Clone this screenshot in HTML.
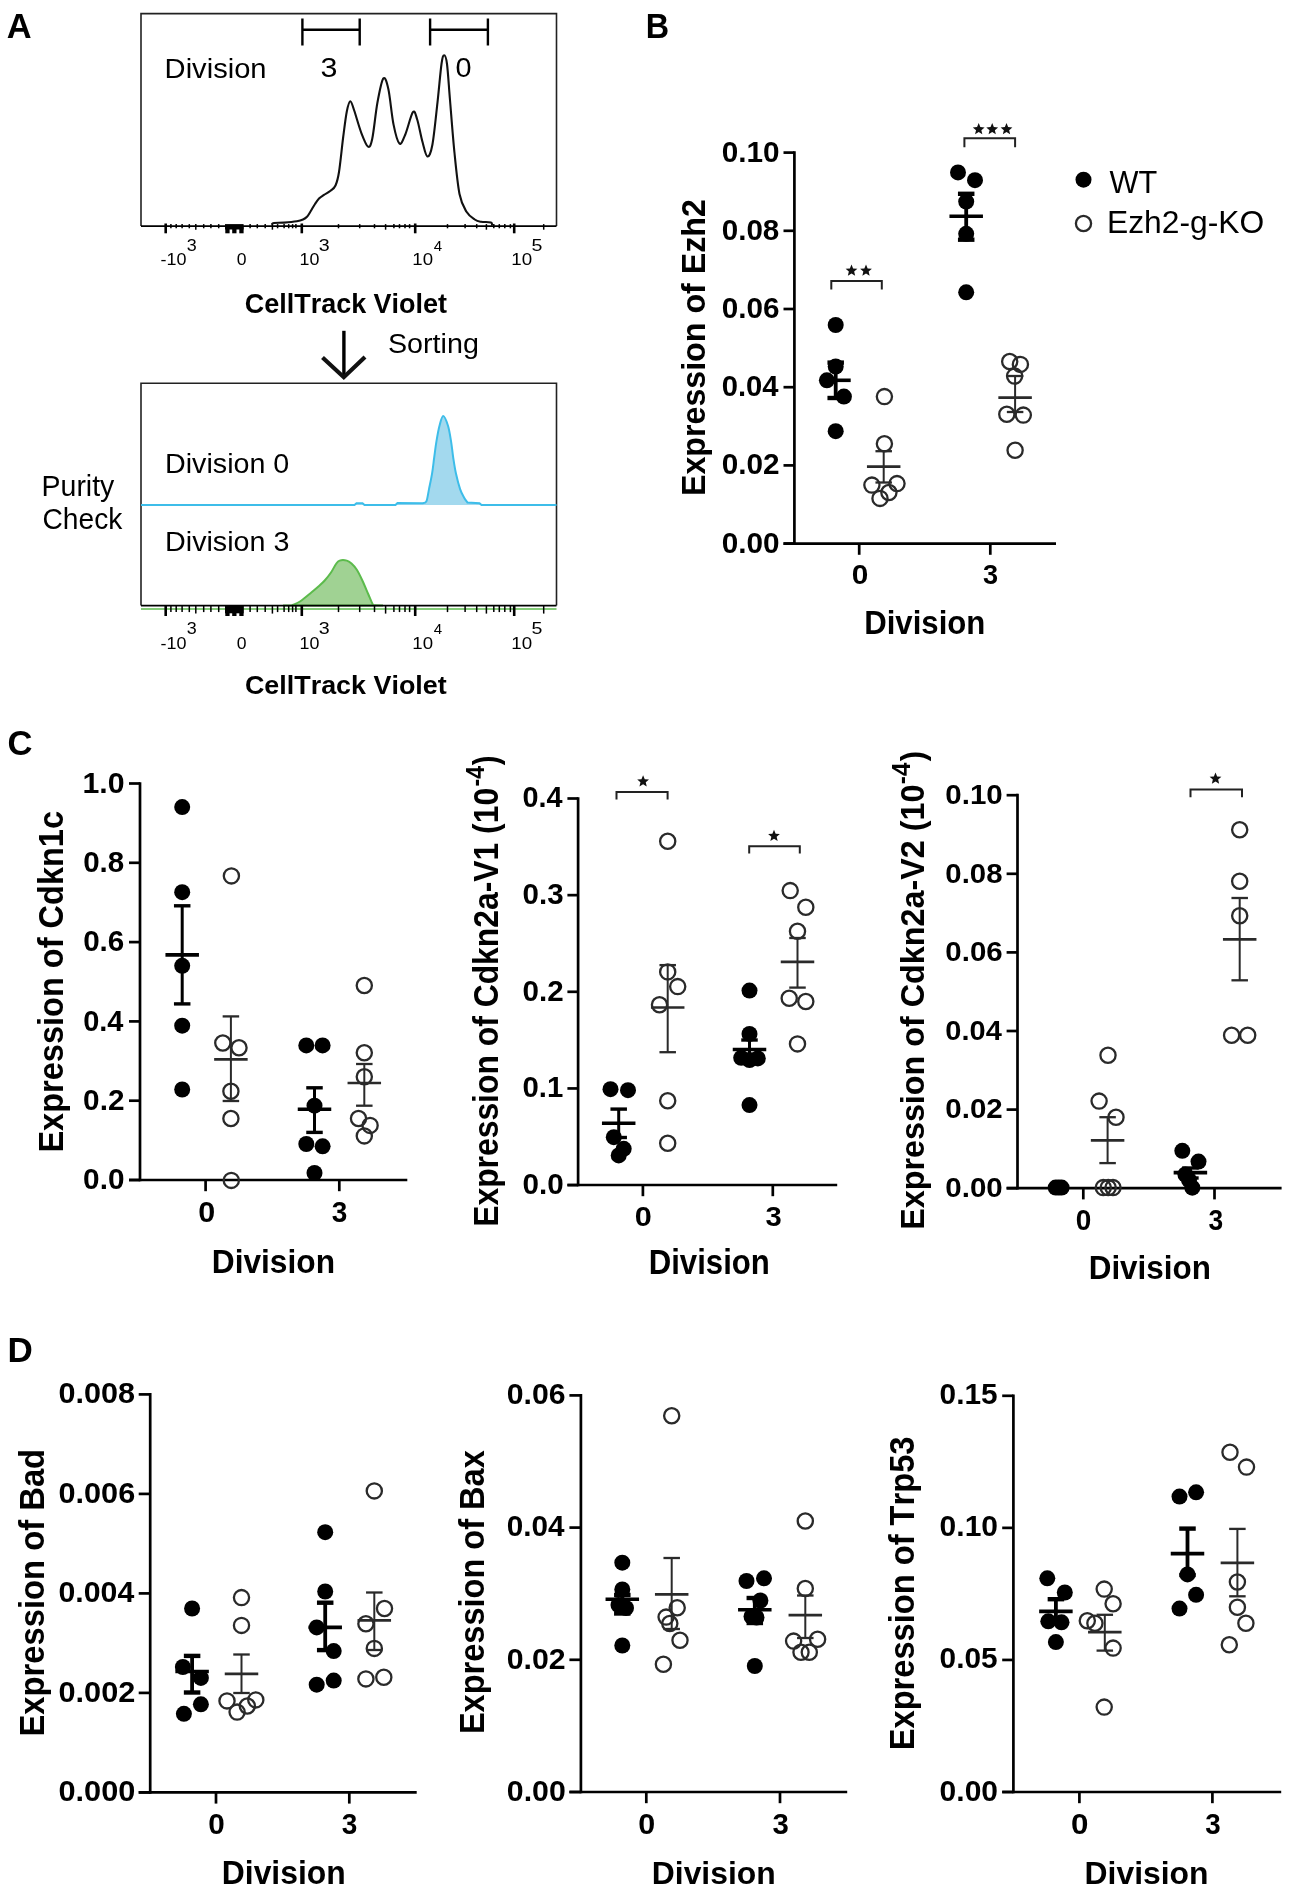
<!DOCTYPE html>
<html><head><meta charset="utf-8"><style>
html,body{margin:0;padding:0;background:#fff;}
svg{display:block;will-change:transform;}
text{font-family:"Liberation Sans",sans-serif;font-kerning:none;font-variant-ligatures:none;}
</style></head><body>
<svg width="1299" height="1897" viewBox="0 0 1299 1897">
<rect width="1299" height="1897" fill="#fff"/>
<text transform="translate(6.84,37.90) scale(0.9870,1)" font-size="34.88" font-weight="bold" fill="#000">A</text>
<path d="M141.0,226.1 V13.6 H556.5 V226.1" fill="none" stroke="#222" stroke-width="1.6"/>
<line x1="302.40" y1="18.50" x2="302.40" y2="45.50" stroke="#000" stroke-width="2.4" stroke-linecap="butt"/>
<line x1="359.70" y1="18.50" x2="359.70" y2="45.50" stroke="#000" stroke-width="2.4" stroke-linecap="butt"/>
<line x1="302.40" y1="29.80" x2="359.70" y2="29.80" stroke="#000" stroke-width="2.4" stroke-linecap="butt"/>
<line x1="430.10" y1="18.50" x2="430.10" y2="45.50" stroke="#000" stroke-width="2.4" stroke-linecap="butt"/>
<line x1="487.90" y1="18.50" x2="487.90" y2="45.50" stroke="#000" stroke-width="2.4" stroke-linecap="butt"/>
<line x1="430.10" y1="29.80" x2="487.90" y2="29.80" stroke="#000" stroke-width="2.4" stroke-linecap="butt"/>
<text transform="translate(164.61,77.80) scale(1.0449,1)" font-size="27.88" fill="#000">Division</text>
<text transform="translate(320.44,77.20) scale(1.1280,1)" font-size="26.92" fill="#000">3</text>
<text transform="translate(455.57,77.20) scale(1.0722,1)" font-size="26.92" fill="#000">0</text>
<path d="M271.50,224.60 C271.92,224.33 271.92,223.33 274.00,223.00 C276.08,222.67 280.18,222.90 284.00,222.60 C287.82,222.30 293.73,221.72 296.90,221.20 C300.07,220.68 301.32,220.23 303.00,219.50 C304.68,218.77 305.75,218.13 307.00,216.80 C308.25,215.47 309.17,213.63 310.50,211.50 C311.83,209.37 313.58,206.17 315.00,204.00 C316.42,201.83 317.50,200.03 319.00,198.50 C320.50,196.97 322.08,196.08 324.00,194.80 C325.92,193.52 328.58,192.35 330.50,190.80 C332.42,189.25 334.08,188.63 335.50,185.50 C336.92,182.37 337.72,180.08 339.00,172.00 C340.28,163.92 341.90,147.08 343.20,137.00 C344.50,126.92 345.62,117.47 346.80,111.50 C347.98,105.53 349.07,101.37 350.30,101.20 C351.53,101.03 352.37,105.23 354.20,110.50 C356.03,115.77 359.00,126.78 361.30,132.80 C363.60,138.82 366.17,145.65 368.00,146.60 C369.83,147.55 370.73,145.80 372.30,138.50 C373.87,131.20 375.57,112.80 377.40,102.80 C379.23,92.80 381.47,80.75 383.30,78.50 C385.13,76.25 386.70,81.65 388.40,89.30 C390.10,96.95 391.67,115.37 393.50,124.40 C395.33,133.43 397.43,141.82 399.40,143.50 C401.37,145.18 403.05,139.72 405.30,134.50 C407.55,129.28 410.92,114.70 412.90,112.20 C414.88,109.70 415.63,114.65 417.20,119.50 C418.77,124.35 420.62,135.13 422.30,141.30 C423.98,147.47 425.62,155.93 427.30,156.50 C428.98,157.07 430.70,153.73 432.40,144.70 C434.10,135.67 435.98,115.75 437.50,102.30 C439.02,88.85 440.38,71.85 441.50,64.00 C442.62,56.15 443.28,55.20 444.20,55.20 C445.12,55.20 446.03,56.53 447.00,64.00 C447.97,71.47 448.77,85.33 450.00,100.00 C451.23,114.67 452.82,136.33 454.40,152.00 C455.98,167.67 457.52,184.08 459.50,194.00 C461.48,203.92 463.77,207.25 466.30,211.50 C468.83,215.75 472.25,217.78 474.70,219.50 C477.15,221.22 478.28,221.32 481.00,221.80 C483.72,222.28 489.17,221.78 491.00,222.40 C492.83,223.02 491.83,224.98 492.00,225.50" fill="none" stroke="#111" stroke-width="2.1" stroke-linejoin="round"/>
<line x1="141.00" y1="226.10" x2="556.50" y2="226.10" stroke="#000" stroke-width="1.6" stroke-linecap="butt"/>
<line x1="165.70" y1="223.50" x2="165.70" y2="233.30" stroke="#000" stroke-width="2.6" stroke-linecap="butt"/>
<line x1="301.80" y1="223.50" x2="301.80" y2="233.30" stroke="#000" stroke-width="2.6" stroke-linecap="butt"/>
<line x1="415.20" y1="223.50" x2="415.20" y2="233.30" stroke="#000" stroke-width="2.6" stroke-linecap="butt"/>
<line x1="514.20" y1="223.50" x2="514.20" y2="233.30" stroke="#000" stroke-width="2.6" stroke-linecap="butt"/>
<line x1="170.90" y1="224.10" x2="170.90" y2="228.30" stroke="#000" stroke-width="1.5" stroke-linecap="butt"/>
<line x1="176.20" y1="224.10" x2="176.20" y2="228.30" stroke="#000" stroke-width="1.5" stroke-linecap="butt"/>
<line x1="182.10" y1="224.10" x2="182.10" y2="228.30" stroke="#000" stroke-width="1.5" stroke-linecap="butt"/>
<line x1="189.30" y1="224.10" x2="189.30" y2="228.30" stroke="#000" stroke-width="1.5" stroke-linecap="butt"/>
<line x1="203.70" y1="224.10" x2="203.70" y2="228.30" stroke="#000" stroke-width="1.5" stroke-linecap="butt"/>
<line x1="210.90" y1="224.10" x2="210.90" y2="228.30" stroke="#000" stroke-width="1.5" stroke-linecap="butt"/>
<line x1="218.70" y1="224.10" x2="218.70" y2="228.30" stroke="#000" stroke-width="1.5" stroke-linecap="butt"/>
<line x1="250.10" y1="224.10" x2="250.10" y2="228.30" stroke="#000" stroke-width="1.5" stroke-linecap="butt"/>
<line x1="257.30" y1="224.10" x2="257.30" y2="228.30" stroke="#000" stroke-width="1.5" stroke-linecap="butt"/>
<line x1="265.20" y1="224.10" x2="265.20" y2="228.30" stroke="#000" stroke-width="1.5" stroke-linecap="butt"/>
<line x1="277.60" y1="224.10" x2="277.60" y2="228.30" stroke="#000" stroke-width="1.5" stroke-linecap="butt"/>
<line x1="284.10" y1="224.10" x2="284.10" y2="228.30" stroke="#000" stroke-width="1.5" stroke-linecap="butt"/>
<line x1="288.70" y1="224.10" x2="288.70" y2="228.30" stroke="#000" stroke-width="1.5" stroke-linecap="butt"/>
<line x1="292.60" y1="224.10" x2="292.60" y2="228.30" stroke="#000" stroke-width="1.5" stroke-linecap="butt"/>
<line x1="295.90" y1="224.10" x2="295.90" y2="228.30" stroke="#000" stroke-width="1.5" stroke-linecap="butt"/>
<line x1="338.50" y1="224.10" x2="338.50" y2="228.30" stroke="#000" stroke-width="1.5" stroke-linecap="butt"/>
<line x1="359.70" y1="224.10" x2="359.70" y2="228.30" stroke="#000" stroke-width="1.5" stroke-linecap="butt"/>
<line x1="374.50" y1="224.10" x2="374.50" y2="228.30" stroke="#000" stroke-width="1.5" stroke-linecap="butt"/>
<line x1="393.90" y1="224.10" x2="393.90" y2="228.30" stroke="#000" stroke-width="1.5" stroke-linecap="butt"/>
<line x1="399.50" y1="224.10" x2="399.50" y2="228.30" stroke="#000" stroke-width="1.5" stroke-linecap="butt"/>
<line x1="405.00" y1="224.10" x2="405.00" y2="228.30" stroke="#000" stroke-width="1.5" stroke-linecap="butt"/>
<line x1="409.60" y1="224.10" x2="409.60" y2="228.30" stroke="#000" stroke-width="1.5" stroke-linecap="butt"/>
<line x1="447.50" y1="224.10" x2="447.50" y2="228.30" stroke="#000" stroke-width="1.5" stroke-linecap="butt"/>
<line x1="465.10" y1="224.10" x2="465.10" y2="228.30" stroke="#000" stroke-width="1.5" stroke-linecap="butt"/>
<line x1="476.70" y1="224.10" x2="476.70" y2="228.30" stroke="#000" stroke-width="1.5" stroke-linecap="butt"/>
<line x1="493.80" y1="224.10" x2="493.80" y2="228.30" stroke="#000" stroke-width="1.5" stroke-linecap="butt"/>
<line x1="499.30" y1="224.10" x2="499.30" y2="228.30" stroke="#000" stroke-width="1.5" stroke-linecap="butt"/>
<line x1="504.80" y1="224.10" x2="504.80" y2="228.30" stroke="#000" stroke-width="1.5" stroke-linecap="butt"/>
<line x1="510.40" y1="224.10" x2="510.40" y2="228.30" stroke="#000" stroke-width="1.5" stroke-linecap="butt"/>
<line x1="195.80" y1="224.10" x2="195.80" y2="229.70" stroke="#000" stroke-width="1.5" stroke-linecap="butt"/>
<line x1="272.40" y1="224.10" x2="272.40" y2="229.70" stroke="#000" stroke-width="1.5" stroke-linecap="butt"/>
<line x1="385.60" y1="224.10" x2="385.60" y2="229.70" stroke="#000" stroke-width="1.5" stroke-linecap="butt"/>
<line x1="486.40" y1="224.10" x2="486.40" y2="229.70" stroke="#000" stroke-width="1.5" stroke-linecap="butt"/>
<line x1="543.70" y1="224.10" x2="543.70" y2="229.70" stroke="#000" stroke-width="1.5" stroke-linecap="butt"/>
<rect x="225.0" y="224.10" width="18.6" height="5.40" fill="#000"/>
<rect x="225.3" y="226.10" width="4.3" height="7.20" fill="#000"/>
<rect x="232.2" y="226.10" width="4.3" height="7.20" fill="#000"/>
<rect x="239.3" y="226.10" width="4.3" height="7.20" fill="#000"/>
<text transform="translate(160.40,265.40) scale(1.1420,1)" font-size="15.75" fill="#000">-10</text>
<text transform="translate(186.72,251.00) scale(1.1380,1)" font-size="15.75" fill="#000">3</text>
<text transform="translate(236.71,265.40) scale(1.1154,1)" font-size="15.75" fill="#000">0</text>
<text transform="translate(299.54,265.40) scale(1.1332,1)" font-size="15.75" fill="#000">10</text>
<text transform="translate(318.75,251.00) scale(1.2451,1)" font-size="15.75" fill="#000">3</text>
<text transform="translate(412.28,265.40) scale(1.1841,1)" font-size="15.75" fill="#000">10</text>
<text transform="translate(433.65,251.00) scale(0.9789,1)" font-size="15.41" fill="#000">4</text>
<text transform="translate(511.27,265.40) scale(1.1905,1)" font-size="15.75" fill="#000">10</text>
<text transform="translate(531.41,251.00) scale(1.2268,1)" font-size="15.99" fill="#000">5</text>
<text transform="translate(244.69,312.60) scale(0.9626,1)" font-size="28.02" font-weight="bold" fill="#000">CellTrack Violet</text>
<line x1="343.90" y1="330.80" x2="343.90" y2="376.50" stroke="#000" stroke-width="3.4" stroke-linecap="butt"/>
<path d="M322.5,357.5 L343.8,377.2 L365,357" fill="none" stroke="#111" stroke-width="4.2" stroke-linejoin="miter"/>
<text transform="translate(388.00,353.40) scale(1.0117,1)" font-size="28.34" fill="#000">Sorting</text>
<path d="M141.0,605.6 V383.3 H556.5 V605.6" fill="none" stroke="#222" stroke-width="1.6"/>
<text transform="translate(41.56,495.90) scale(0.9747,1)" font-size="29.22" fill="#000">Purity</text>
<text transform="translate(42.47,529.40) scale(0.9843,1)" font-size="28.63" fill="#000">Check</text>
<text transform="translate(165.05,473.20) scale(1.0598,1)" font-size="27.05" fill="#000">Division 0</text>
<text transform="translate(165.05,551.30) scale(1.0611,1)" font-size="27.05" fill="#000">Division 3</text>
<path d="M141.0,505.0 H354.5 L356.5,503.2 H362.5 L364.5,505.0 H395.5 L397.5,503.0 L423.0,503.2 C423.58,502.87 425.50,503.55 426.50,501.20 C427.50,498.85 428.07,493.75 429.00,489.10 C429.93,484.45 431.23,478.57 432.10,473.30 C432.97,468.03 433.48,462.78 434.20,457.50 C434.92,452.22 435.52,446.88 436.40,441.60 C437.28,436.32 438.37,430.07 439.50,425.80 C440.63,421.53 441.78,416.00 443.20,416.00 C444.62,416.00 446.68,421.53 448.00,425.80 C449.32,430.07 450.23,436.32 451.10,441.60 C451.97,446.88 452.40,452.22 453.20,457.50 C454.00,462.78 454.75,468.03 455.90,473.30 C457.05,478.57 458.75,485.07 460.10,489.10 C461.45,493.13 462.77,495.25 464.00,497.50 C465.23,499.75 466.92,501.75 467.50,502.60 L479.5,503.2 L481.5,505.0 H556.5" fill="#a3d9ee" stroke="#3dbde9" stroke-width="2.0"/>
<line x1="141.00" y1="609.00" x2="556.50" y2="609.00" stroke="#5cbb4c" stroke-width="1.6" stroke-linecap="butt"/>
<path d="M283,605.4 L292.0,605.2 C293.33,604.58 296.78,603.62 300.00,601.50 C303.22,599.38 308.13,595.08 311.30,592.50 C314.47,589.92 316.77,588.00 319.00,586.00 C321.23,584.00 322.70,582.75 324.70,580.50 C326.70,578.25 329.12,575.25 331.00,572.50 C332.88,569.75 334.57,565.98 336.00,564.00 C337.43,562.02 337.80,561.17 339.60,560.60 C341.40,560.03 344.82,560.10 346.80,560.60 C348.78,561.10 349.80,562.03 351.50,563.60 C353.20,565.17 355.15,567.10 357.00,570.00 C358.85,572.90 360.73,577.00 362.60,581.00 C364.47,585.00 366.52,590.13 368.20,594.00 C369.88,597.87 371.57,602.32 372.70,604.20 C373.83,606.08 374.62,605.12 375.00,605.30 L383,605.4 Z" fill="#a0d293" stroke="#5cbb4c" stroke-width="2.0"/>
<line x1="141.00" y1="605.60" x2="556.50" y2="605.60" stroke="#000" stroke-width="1.6" stroke-linecap="butt"/>
<line x1="165.70" y1="605.60" x2="165.70" y2="616.00" stroke="#000" stroke-width="2.6" stroke-linecap="butt"/>
<line x1="301.80" y1="605.60" x2="301.80" y2="616.00" stroke="#000" stroke-width="2.6" stroke-linecap="butt"/>
<line x1="415.20" y1="605.60" x2="415.20" y2="616.00" stroke="#000" stroke-width="2.6" stroke-linecap="butt"/>
<line x1="514.20" y1="605.60" x2="514.20" y2="616.00" stroke="#000" stroke-width="2.6" stroke-linecap="butt"/>
<line x1="170.90" y1="605.60" x2="170.90" y2="612.10" stroke="#000" stroke-width="1.5" stroke-linecap="butt"/>
<line x1="176.20" y1="605.60" x2="176.20" y2="612.10" stroke="#000" stroke-width="1.5" stroke-linecap="butt"/>
<line x1="182.10" y1="605.60" x2="182.10" y2="612.10" stroke="#000" stroke-width="1.5" stroke-linecap="butt"/>
<line x1="189.30" y1="605.60" x2="189.30" y2="612.10" stroke="#000" stroke-width="1.5" stroke-linecap="butt"/>
<line x1="203.70" y1="605.60" x2="203.70" y2="612.10" stroke="#000" stroke-width="1.5" stroke-linecap="butt"/>
<line x1="210.90" y1="605.60" x2="210.90" y2="612.10" stroke="#000" stroke-width="1.5" stroke-linecap="butt"/>
<line x1="218.70" y1="605.60" x2="218.70" y2="612.10" stroke="#000" stroke-width="1.5" stroke-linecap="butt"/>
<line x1="250.10" y1="605.60" x2="250.10" y2="612.10" stroke="#000" stroke-width="1.5" stroke-linecap="butt"/>
<line x1="257.30" y1="605.60" x2="257.30" y2="612.10" stroke="#000" stroke-width="1.5" stroke-linecap="butt"/>
<line x1="265.20" y1="605.60" x2="265.20" y2="612.10" stroke="#000" stroke-width="1.5" stroke-linecap="butt"/>
<line x1="277.60" y1="605.60" x2="277.60" y2="612.10" stroke="#000" stroke-width="1.5" stroke-linecap="butt"/>
<line x1="284.10" y1="605.60" x2="284.10" y2="612.10" stroke="#000" stroke-width="1.5" stroke-linecap="butt"/>
<line x1="288.70" y1="605.60" x2="288.70" y2="612.10" stroke="#000" stroke-width="1.5" stroke-linecap="butt"/>
<line x1="292.60" y1="605.60" x2="292.60" y2="612.10" stroke="#000" stroke-width="1.5" stroke-linecap="butt"/>
<line x1="295.90" y1="605.60" x2="295.90" y2="612.10" stroke="#000" stroke-width="1.5" stroke-linecap="butt"/>
<line x1="338.50" y1="605.60" x2="338.50" y2="612.10" stroke="#000" stroke-width="1.5" stroke-linecap="butt"/>
<line x1="359.70" y1="605.60" x2="359.70" y2="612.10" stroke="#000" stroke-width="1.5" stroke-linecap="butt"/>
<line x1="374.50" y1="605.60" x2="374.50" y2="612.10" stroke="#000" stroke-width="1.5" stroke-linecap="butt"/>
<line x1="393.90" y1="605.60" x2="393.90" y2="612.10" stroke="#000" stroke-width="1.5" stroke-linecap="butt"/>
<line x1="399.50" y1="605.60" x2="399.50" y2="612.10" stroke="#000" stroke-width="1.5" stroke-linecap="butt"/>
<line x1="405.00" y1="605.60" x2="405.00" y2="612.10" stroke="#000" stroke-width="1.5" stroke-linecap="butt"/>
<line x1="409.60" y1="605.60" x2="409.60" y2="612.10" stroke="#000" stroke-width="1.5" stroke-linecap="butt"/>
<line x1="447.50" y1="605.60" x2="447.50" y2="612.10" stroke="#000" stroke-width="1.5" stroke-linecap="butt"/>
<line x1="465.10" y1="605.60" x2="465.10" y2="612.10" stroke="#000" stroke-width="1.5" stroke-linecap="butt"/>
<line x1="476.70" y1="605.60" x2="476.70" y2="612.10" stroke="#000" stroke-width="1.5" stroke-linecap="butt"/>
<line x1="493.80" y1="605.60" x2="493.80" y2="612.10" stroke="#000" stroke-width="1.5" stroke-linecap="butt"/>
<line x1="499.30" y1="605.60" x2="499.30" y2="612.10" stroke="#000" stroke-width="1.5" stroke-linecap="butt"/>
<line x1="504.80" y1="605.60" x2="504.80" y2="612.10" stroke="#000" stroke-width="1.5" stroke-linecap="butt"/>
<line x1="510.40" y1="605.60" x2="510.40" y2="612.10" stroke="#000" stroke-width="1.5" stroke-linecap="butt"/>
<line x1="195.80" y1="605.60" x2="195.80" y2="613.60" stroke="#000" stroke-width="1.5" stroke-linecap="butt"/>
<line x1="272.40" y1="605.60" x2="272.40" y2="613.60" stroke="#000" stroke-width="1.5" stroke-linecap="butt"/>
<line x1="385.60" y1="605.60" x2="385.60" y2="613.60" stroke="#000" stroke-width="1.5" stroke-linecap="butt"/>
<line x1="486.40" y1="605.60" x2="486.40" y2="613.60" stroke="#000" stroke-width="1.5" stroke-linecap="butt"/>
<line x1="543.70" y1="605.60" x2="543.70" y2="613.60" stroke="#000" stroke-width="1.5" stroke-linecap="butt"/>
<rect x="225.0" y="605.60" width="18.6" height="7.70" fill="#000"/>
<rect x="225.3" y="605.60" width="4.3" height="10.40" fill="#000"/>
<rect x="232.2" y="605.60" width="4.3" height="10.40" fill="#000"/>
<rect x="239.3" y="605.60" width="4.3" height="10.40" fill="#000"/>
<text transform="translate(160.40,648.50) scale(1.1420,1)" font-size="15.75" fill="#000">-10</text>
<text transform="translate(186.72,634.10) scale(1.1380,1)" font-size="15.75" fill="#000">3</text>
<text transform="translate(236.71,648.50) scale(1.1154,1)" font-size="15.75" fill="#000">0</text>
<text transform="translate(299.54,648.50) scale(1.1332,1)" font-size="15.75" fill="#000">10</text>
<text transform="translate(318.75,634.10) scale(1.2451,1)" font-size="15.75" fill="#000">3</text>
<text transform="translate(412.28,648.50) scale(1.1841,1)" font-size="15.75" fill="#000">10</text>
<text transform="translate(433.65,634.10) scale(0.9789,1)" font-size="15.41" fill="#000">4</text>
<text transform="translate(511.27,648.50) scale(1.1905,1)" font-size="15.75" fill="#000">10</text>
<text transform="translate(531.41,634.10) scale(1.2268,1)" font-size="15.99" fill="#000">5</text>
<text transform="translate(244.90,694.40) scale(1.0599,1)" font-size="25.39" font-weight="bold" fill="#000">CellTrack Violet</text>
<text transform="translate(645.74,37.70) scale(0.9377,1)" font-size="34.45" font-weight="bold" fill="#000">B</text>
<line x1="794.40" y1="151.25" x2="794.40" y2="544.95" stroke="#000" stroke-width="2.7" stroke-linecap="butt"/>
<line x1="783.50" y1="543.60" x2="1056.00" y2="543.60" stroke="#000" stroke-width="2.7" stroke-linecap="butt"/>
<line x1="783.50" y1="152.60" x2="794.40" y2="152.60" stroke="#000" stroke-width="2.7" stroke-linecap="butt"/>
<line x1="783.50" y1="230.80" x2="794.40" y2="230.80" stroke="#000" stroke-width="2.7" stroke-linecap="butt"/>
<line x1="783.50" y1="309.00" x2="794.40" y2="309.00" stroke="#000" stroke-width="2.7" stroke-linecap="butt"/>
<line x1="783.50" y1="387.20" x2="794.40" y2="387.20" stroke="#000" stroke-width="2.7" stroke-linecap="butt"/>
<line x1="783.50" y1="465.40" x2="794.40" y2="465.40" stroke="#000" stroke-width="2.7" stroke-linecap="butt"/>
<line x1="783.50" y1="543.60" x2="794.40" y2="543.60" stroke="#000" stroke-width="2.7" stroke-linecap="butt"/>
<line x1="859.20" y1="543.60" x2="859.20" y2="554.80" stroke="#000" stroke-width="2.7" stroke-linecap="butt"/>
<line x1="990.30" y1="543.60" x2="990.30" y2="554.80" stroke="#000" stroke-width="2.7" stroke-linecap="butt"/>
<text transform="translate(721.72,161.61) scale(1.0029,1)" font-size="29.66" font-weight="bold" fill="#000">0.10</text>
<text transform="translate(721.73,239.81) scale(0.9974,1)" font-size="29.66" font-weight="bold" fill="#000">0.08</text>
<text transform="translate(721.73,318.01) scale(1.0003,1)" font-size="29.66" font-weight="bold" fill="#000">0.06</text>
<text transform="translate(721.75,396.21) scale(0.9841,1)" font-size="29.66" font-weight="bold" fill="#000">0.04</text>
<text transform="translate(721.72,474.41) scale(1.0024,1)" font-size="29.66" font-weight="bold" fill="#000">0.02</text>
<text transform="translate(721.72,552.61) scale(1.0029,1)" font-size="29.66" font-weight="bold" fill="#000">0.00</text>
<text transform="translate(851.72,584.42) scale(1.0517,1)" font-size="28.39" font-weight="bold" fill="#000">0</text>
<text transform="translate(982.88,584.38) scale(0.9586,1)" font-size="28.33" font-weight="bold" fill="#000">3</text>
<text transform="translate(864.22,633.90) scale(0.9404,1)" font-size="33.14" font-weight="bold" fill="#000">Division</text>
<text transform="translate(704.80,496.05) rotate(-90) scale(0.9843,1)" font-size="32.70" font-weight="bold">Expression of Ezh2</text>
<path d="M831.3,289.5 V281.0 H881.8 V289.5" fill="none" stroke="#222" stroke-width="2.0"/>
<polygon points="851.50,264.50 853.14,268.44 857.40,268.78 854.15,271.56 855.14,275.72 851.50,273.49 847.86,275.72 848.85,271.56 845.60,268.78 849.86,268.44" fill="#111"/>
<polygon points="866.00,264.50 867.64,268.44 871.90,268.78 868.65,271.56 869.64,275.72 866.00,273.49 862.36,275.72 863.35,271.56 860.10,268.78 864.36,268.44" fill="#111"/>
<path d="M964.4,147.3 V138.2 H1015.1 V147.3" fill="none" stroke="#222" stroke-width="2.0"/>
<polygon points="978.70,123.10 980.34,127.04 984.60,127.38 981.35,130.16 982.34,134.32 978.70,132.09 975.06,134.32 976.05,130.16 972.80,127.38 977.06,127.04" fill="#111"/>
<polygon points="992.20,123.10 993.84,127.04 998.10,127.38 994.85,130.16 995.84,134.32 992.20,132.09 988.56,134.32 989.55,130.16 986.30,127.38 990.56,127.04" fill="#111"/>
<polygon points="1006.50,123.10 1008.14,127.04 1012.40,127.38 1009.15,130.16 1010.14,134.32 1006.50,132.09 1002.86,134.32 1003.85,130.16 1000.60,127.38 1004.86,127.04" fill="#111"/>
<circle cx="835.70" cy="325.00" r="8.0" fill="#000"/>
<circle cx="835.70" cy="366.50" r="8.0" fill="#000"/>
<circle cx="826.90" cy="380.30" r="8.0" fill="#000"/>
<circle cx="843.90" cy="396.60" r="8.0" fill="#000"/>
<circle cx="835.70" cy="431.20" r="8.0" fill="#000"/>
<line x1="835.70" y1="362.60" x2="835.70" y2="398.00" stroke="#000" stroke-width="3.8" stroke-linecap="butt"/>
<line x1="827.45" y1="362.60" x2="843.95" y2="362.60" stroke="#000" stroke-width="4.4" stroke-linecap="butt"/>
<line x1="827.45" y1="398.00" x2="843.95" y2="398.00" stroke="#000" stroke-width="4.4" stroke-linecap="butt"/>
<line x1="820.70" y1="380.30" x2="850.70" y2="380.30" stroke="#000" stroke-width="3.6" stroke-linecap="butt"/>
<circle cx="884.40" cy="396.60" r="7.6" fill="none" stroke="#2a2a2a" stroke-width="2.3"/>
<circle cx="884.40" cy="443.80" r="7.6" fill="none" stroke="#2a2a2a" stroke-width="2.3"/>
<circle cx="871.90" cy="485.10" r="7.6" fill="none" stroke="#2a2a2a" stroke-width="2.3"/>
<circle cx="897.00" cy="483.60" r="7.6" fill="none" stroke="#2a2a2a" stroke-width="2.3"/>
<circle cx="880.00" cy="498.40" r="7.6" fill="none" stroke="#2a2a2a" stroke-width="2.3"/>
<circle cx="888.90" cy="492.50" r="7.6" fill="none" stroke="#2a2a2a" stroke-width="2.3"/>
<line x1="883.70" y1="451.20" x2="883.70" y2="482.50" stroke="#2a2a2a" stroke-width="2.0" stroke-linecap="butt"/>
<line x1="875.45" y1="451.20" x2="891.95" y2="451.20" stroke="#2a2a2a" stroke-width="2.3" stroke-linecap="butt"/>
<line x1="875.45" y1="482.50" x2="891.95" y2="482.50" stroke="#2a2a2a" stroke-width="2.3" stroke-linecap="butt"/>
<line x1="866.95" y1="466.70" x2="900.45" y2="466.70" stroke="#2a2a2a" stroke-width="2.7" stroke-linecap="butt"/>
<circle cx="958.00" cy="172.40" r="8.0" fill="#000"/>
<circle cx="975.00" cy="180.20" r="8.0" fill="#000"/>
<circle cx="966.20" cy="201.60" r="8.0" fill="#000"/>
<circle cx="966.20" cy="233.80" r="8.0" fill="#000"/>
<circle cx="966.20" cy="292.30" r="8.0" fill="#000"/>
<line x1="966.20" y1="193.80" x2="966.20" y2="239.70" stroke="#000" stroke-width="3.8" stroke-linecap="butt"/>
<line x1="957.95" y1="193.80" x2="974.45" y2="193.80" stroke="#000" stroke-width="4.4" stroke-linecap="butt"/>
<line x1="957.95" y1="239.70" x2="974.45" y2="239.70" stroke="#000" stroke-width="4.4" stroke-linecap="butt"/>
<line x1="949.45" y1="216.30" x2="982.95" y2="216.30" stroke="#000" stroke-width="3.6" stroke-linecap="butt"/>
<circle cx="1009.70" cy="361.50" r="7.6" fill="none" stroke="#2a2a2a" stroke-width="2.3"/>
<circle cx="1020.40" cy="364.40" r="7.6" fill="none" stroke="#2a2a2a" stroke-width="2.3"/>
<circle cx="1014.60" cy="376.10" r="7.6" fill="none" stroke="#2a2a2a" stroke-width="2.3"/>
<circle cx="1006.80" cy="414.20" r="7.6" fill="none" stroke="#2a2a2a" stroke-width="2.3"/>
<circle cx="1023.30" cy="415.10" r="7.6" fill="none" stroke="#2a2a2a" stroke-width="2.3"/>
<circle cx="1015.10" cy="450.20" r="7.6" fill="none" stroke="#2a2a2a" stroke-width="2.3"/>
<line x1="1015.10" y1="376.00" x2="1015.10" y2="412.00" stroke="#2a2a2a" stroke-width="2.0" stroke-linecap="butt"/>
<line x1="1006.85" y1="376.00" x2="1023.35" y2="376.00" stroke="#2a2a2a" stroke-width="2.3" stroke-linecap="butt"/>
<line x1="1006.85" y1="412.00" x2="1023.35" y2="412.00" stroke="#2a2a2a" stroke-width="2.3" stroke-linecap="butt"/>
<line x1="998.35" y1="397.60" x2="1031.85" y2="397.60" stroke="#2a2a2a" stroke-width="2.7" stroke-linecap="butt"/>
<circle cx="1083.50" cy="179.70" r="8.0" fill="#000"/>
<circle cx="1083.50" cy="223.50" r="7.6" fill="none" stroke="#2a2a2a" stroke-width="2.3"/>
<text transform="translate(1109.47,193.40) scale(0.9918,1)" font-size="30.96" fill="#000">WT</text>
<text transform="translate(1106.99,233.20) scale(0.9896,1)" font-size="32.12" fill="#000">Ezh2-g-KO</text>
<text transform="translate(7.38,754.75) scale(0.9635,1)" font-size="35.88" font-weight="bold" fill="#000">C</text>
<line x1="140.00" y1="782.15" x2="140.00" y2="1181.35" stroke="#000" stroke-width="2.7" stroke-linecap="butt"/>
<line x1="129.00" y1="1180.00" x2="407.30" y2="1180.00" stroke="#000" stroke-width="2.7" stroke-linecap="butt"/>
<line x1="129.00" y1="783.50" x2="140.00" y2="783.50" stroke="#000" stroke-width="2.7" stroke-linecap="butt"/>
<line x1="129.00" y1="862.80" x2="140.00" y2="862.80" stroke="#000" stroke-width="2.7" stroke-linecap="butt"/>
<line x1="129.00" y1="942.10" x2="140.00" y2="942.10" stroke="#000" stroke-width="2.7" stroke-linecap="butt"/>
<line x1="129.00" y1="1021.40" x2="140.00" y2="1021.40" stroke="#000" stroke-width="2.7" stroke-linecap="butt"/>
<line x1="129.00" y1="1100.70" x2="140.00" y2="1100.70" stroke="#000" stroke-width="2.7" stroke-linecap="butt"/>
<line x1="129.00" y1="1180.00" x2="140.00" y2="1180.00" stroke="#000" stroke-width="2.7" stroke-linecap="butt"/>
<line x1="205.60" y1="1180.00" x2="205.60" y2="1191.20" stroke="#000" stroke-width="2.7" stroke-linecap="butt"/>
<line x1="339.30" y1="1180.00" x2="339.30" y2="1191.20" stroke="#000" stroke-width="2.7" stroke-linecap="butt"/>
<text transform="translate(82.39,792.72) scale(1.0473,1)" font-size="28.95" font-weight="bold" fill="#000">1.0</text>
<text transform="translate(83.13,872.02) scale(1.0205,1)" font-size="28.95" font-weight="bold" fill="#000">0.8</text>
<text transform="translate(83.13,951.32) scale(1.0247,1)" font-size="28.95" font-weight="bold" fill="#000">0.6</text>
<text transform="translate(83.15,1030.62) scale(1.0013,1)" font-size="28.95" font-weight="bold" fill="#000">0.4</text>
<text transform="translate(83.12,1109.92) scale(1.0278,1)" font-size="28.95" font-weight="bold" fill="#000">0.2</text>
<text transform="translate(83.12,1189.22) scale(1.0285,1)" font-size="28.95" font-weight="bold" fill="#000">0.0</text>
<text transform="translate(198.19,1222.42) scale(1.0479,1)" font-size="29.10" font-weight="bold" fill="#000">0</text>
<text transform="translate(331.76,1222.37) scale(0.9631,1)" font-size="29.04" font-weight="bold" fill="#000">3</text>
<text transform="translate(211.78,1273.20) scale(0.9564,1)" font-size="33.14" font-weight="bold" fill="#000">Division</text>
<text transform="translate(63.10,1152.58) rotate(-90) scale(0.9286,1)" font-size="35.03" font-weight="bold">Expression of Cdkn1c</text>
<circle cx="182.20" cy="807.10" r="8.0" fill="#000"/>
<circle cx="182.20" cy="892.20" r="8.0" fill="#000"/>
<circle cx="182.20" cy="965.80" r="8.0" fill="#000"/>
<circle cx="182.20" cy="1025.70" r="8.0" fill="#000"/>
<circle cx="182.20" cy="1089.50" r="8.0" fill="#000"/>
<line x1="182.20" y1="905.80" x2="182.20" y2="1003.90" stroke="#000" stroke-width="3.0" stroke-linecap="butt"/>
<line x1="173.95" y1="905.80" x2="190.45" y2="905.80" stroke="#000" stroke-width="3.4" stroke-linecap="butt"/>
<line x1="173.95" y1="1003.90" x2="190.45" y2="1003.90" stroke="#000" stroke-width="3.4" stroke-linecap="butt"/>
<line x1="165.45" y1="954.90" x2="198.95" y2="954.90" stroke="#000" stroke-width="3.6" stroke-linecap="butt"/>
<circle cx="231.40" cy="875.90" r="7.6" fill="none" stroke="#2a2a2a" stroke-width="2.3"/>
<circle cx="222.80" cy="1043.00" r="7.6" fill="none" stroke="#2a2a2a" stroke-width="2.3"/>
<circle cx="239.00" cy="1047.70" r="7.6" fill="none" stroke="#2a2a2a" stroke-width="2.3"/>
<circle cx="230.90" cy="1091.30" r="7.6" fill="none" stroke="#2a2a2a" stroke-width="2.3"/>
<circle cx="230.90" cy="1118.50" r="7.6" fill="none" stroke="#2a2a2a" stroke-width="2.3"/>
<circle cx="231.30" cy="1180.40" r="7.6" fill="none" stroke="#2a2a2a" stroke-width="2.3"/>
<line x1="230.90" y1="1016.40" x2="230.90" y2="1101.00" stroke="#2a2a2a" stroke-width="2.0" stroke-linecap="butt"/>
<line x1="222.65" y1="1016.40" x2="239.15" y2="1016.40" stroke="#2a2a2a" stroke-width="2.3" stroke-linecap="butt"/>
<line x1="222.65" y1="1101.00" x2="239.15" y2="1101.00" stroke="#2a2a2a" stroke-width="2.3" stroke-linecap="butt"/>
<line x1="214.15" y1="1059.30" x2="247.65" y2="1059.30" stroke="#2a2a2a" stroke-width="2.7" stroke-linecap="butt"/>
<circle cx="306.30" cy="1045.40" r="8.0" fill="#000"/>
<circle cx="322.60" cy="1045.40" r="8.0" fill="#000"/>
<circle cx="314.50" cy="1105.70" r="8.0" fill="#000"/>
<circle cx="306.30" cy="1144.00" r="8.0" fill="#000"/>
<circle cx="322.60" cy="1146.30" r="8.0" fill="#000"/>
<circle cx="314.50" cy="1173.00" r="8.0" fill="#000"/>
<line x1="314.50" y1="1087.80" x2="314.50" y2="1132.40" stroke="#000" stroke-width="3.0" stroke-linecap="butt"/>
<line x1="306.25" y1="1087.80" x2="322.75" y2="1087.80" stroke="#000" stroke-width="3.4" stroke-linecap="butt"/>
<line x1="306.25" y1="1132.40" x2="322.75" y2="1132.40" stroke="#000" stroke-width="3.4" stroke-linecap="butt"/>
<line x1="297.75" y1="1109.20" x2="331.25" y2="1109.20" stroke="#000" stroke-width="3.6" stroke-linecap="butt"/>
<circle cx="364.30" cy="985.50" r="7.6" fill="none" stroke="#2a2a2a" stroke-width="2.3"/>
<circle cx="364.30" cy="1052.80" r="7.6" fill="none" stroke="#2a2a2a" stroke-width="2.3"/>
<circle cx="364.30" cy="1076.70" r="7.6" fill="none" stroke="#2a2a2a" stroke-width="2.3"/>
<circle cx="358.50" cy="1118.50" r="7.6" fill="none" stroke="#2a2a2a" stroke-width="2.3"/>
<circle cx="370.10" cy="1125.40" r="7.6" fill="none" stroke="#2a2a2a" stroke-width="2.3"/>
<circle cx="364.30" cy="1135.90" r="7.6" fill="none" stroke="#2a2a2a" stroke-width="2.3"/>
<line x1="364.30" y1="1064.00" x2="364.30" y2="1105.70" stroke="#2a2a2a" stroke-width="2.0" stroke-linecap="butt"/>
<line x1="356.05" y1="1064.00" x2="372.55" y2="1064.00" stroke="#2a2a2a" stroke-width="2.3" stroke-linecap="butt"/>
<line x1="356.05" y1="1105.70" x2="372.55" y2="1105.70" stroke="#2a2a2a" stroke-width="2.3" stroke-linecap="butt"/>
<line x1="347.55" y1="1083.00" x2="381.05" y2="1083.00" stroke="#2a2a2a" stroke-width="2.7" stroke-linecap="butt"/>
<line x1="578.10" y1="797.15" x2="578.10" y2="1186.35" stroke="#000" stroke-width="2.7" stroke-linecap="butt"/>
<line x1="567.40" y1="1185.00" x2="837.20" y2="1185.00" stroke="#000" stroke-width="2.7" stroke-linecap="butt"/>
<line x1="567.40" y1="798.50" x2="578.10" y2="798.50" stroke="#000" stroke-width="2.7" stroke-linecap="butt"/>
<line x1="567.40" y1="895.15" x2="578.10" y2="895.15" stroke="#000" stroke-width="2.7" stroke-linecap="butt"/>
<line x1="567.40" y1="991.80" x2="578.10" y2="991.80" stroke="#000" stroke-width="2.7" stroke-linecap="butt"/>
<line x1="567.40" y1="1088.45" x2="578.10" y2="1088.45" stroke="#000" stroke-width="2.7" stroke-linecap="butt"/>
<line x1="567.40" y1="1185.10" x2="578.10" y2="1185.10" stroke="#000" stroke-width="2.7" stroke-linecap="butt"/>
<line x1="642.90" y1="1185.00" x2="642.90" y2="1196.20" stroke="#000" stroke-width="2.7" stroke-linecap="butt"/>
<line x1="772.80" y1="1185.00" x2="772.80" y2="1196.20" stroke="#000" stroke-width="2.7" stroke-linecap="butt"/>
<text transform="translate(522.56,807.22) scale(1.0060,1)" font-size="28.67" font-weight="bold" fill="#000">0.4</text>
<text transform="translate(522.53,903.83) scale(1.0316,1)" font-size="28.61" font-weight="bold" fill="#000">0.3</text>
<text transform="translate(522.53,1000.52) scale(1.0326,1)" font-size="28.67" font-weight="bold" fill="#000">0.2</text>
<text transform="translate(522.54,1097.17) scale(1.0230,1)" font-size="28.67" font-weight="bold" fill="#000">0.1</text>
<text transform="translate(522.53,1193.82) scale(1.0333,1)" font-size="28.67" font-weight="bold" fill="#000">0.0</text>
<text transform="translate(634.69,1226.02) scale(1.0813,1)" font-size="28.39" font-weight="bold" fill="#000">0</text>
<text transform="translate(765.53,1225.98) scale(1.0297,1)" font-size="28.33" font-weight="bold" fill="#000">3</text>
<text transform="translate(648.72,1274.10) scale(0.9085,1)" font-size="34.30" font-weight="bold" fill="#000">Division</text>
<text transform="translate(498.40,1226.83) rotate(-90) scale(0.9136,1)" font-size="34.88" font-weight="bold">Expression of Cdkn2a-V1 (10</text>
<text transform="translate(484.20,786.50) rotate(-90) scale(0.9181,1)" font-size="25.14" font-weight="bold">-4</text>
<text transform="translate(498.40,765.23) rotate(-90) scale(0.8227,1)" font-size="34.88" font-weight="bold">)</text>
<path d="M616.5,799.4 V791.9 H667.6 V799.4" fill="none" stroke="#222" stroke-width="2.0"/>
<polygon points="643.10,775.20 644.74,779.14 649.00,779.48 645.75,782.26 646.74,786.42 643.10,784.19 639.46,786.42 640.45,782.26 637.20,779.48 641.46,779.14" fill="#111"/>
<path d="M749.2,853.6 V846.3 H799.8 V853.6" fill="none" stroke="#222" stroke-width="2.0"/>
<polygon points="774.00,829.80 775.64,833.74 779.90,834.08 776.65,836.86 777.64,841.02 774.00,838.79 770.36,841.02 771.35,836.86 768.10,834.08 772.36,833.74" fill="#111"/>
<circle cx="610.50" cy="1089.20" r="8.0" fill="#000"/>
<circle cx="628.00" cy="1090.20" r="8.0" fill="#000"/>
<circle cx="613.80" cy="1137.20" r="8.0" fill="#000"/>
<circle cx="623.70" cy="1148.80" r="8.0" fill="#000"/>
<circle cx="618.70" cy="1155.40" r="8.0" fill="#000"/>
<line x1="618.70" y1="1109.10" x2="618.70" y2="1137.50" stroke="#000" stroke-width="3.0" stroke-linecap="butt"/>
<line x1="610.45" y1="1109.10" x2="626.95" y2="1109.10" stroke="#000" stroke-width="3.4" stroke-linecap="butt"/>
<line x1="610.45" y1="1137.50" x2="626.95" y2="1137.50" stroke="#000" stroke-width="3.4" stroke-linecap="butt"/>
<line x1="601.95" y1="1123.30" x2="635.45" y2="1123.30" stroke="#000" stroke-width="3.6" stroke-linecap="butt"/>
<circle cx="667.70" cy="841.30" r="7.6" fill="none" stroke="#2a2a2a" stroke-width="2.3"/>
<circle cx="667.70" cy="971.90" r="7.6" fill="none" stroke="#2a2a2a" stroke-width="2.3"/>
<circle cx="677.70" cy="986.60" r="7.6" fill="none" stroke="#2a2a2a" stroke-width="2.3"/>
<circle cx="659.50" cy="1004.80" r="7.6" fill="none" stroke="#2a2a2a" stroke-width="2.3"/>
<circle cx="667.70" cy="1100.80" r="7.6" fill="none" stroke="#2a2a2a" stroke-width="2.3"/>
<circle cx="667.70" cy="1143.20" r="7.6" fill="none" stroke="#2a2a2a" stroke-width="2.3"/>
<line x1="667.70" y1="965.10" x2="667.70" y2="1052.20" stroke="#2a2a2a" stroke-width="2.0" stroke-linecap="butt"/>
<line x1="659.45" y1="965.10" x2="675.95" y2="965.10" stroke="#2a2a2a" stroke-width="2.3" stroke-linecap="butt"/>
<line x1="659.45" y1="1052.20" x2="675.95" y2="1052.20" stroke="#2a2a2a" stroke-width="2.3" stroke-linecap="butt"/>
<line x1="650.95" y1="1007.50" x2="684.45" y2="1007.50" stroke="#2a2a2a" stroke-width="2.7" stroke-linecap="butt"/>
<circle cx="749.50" cy="990.60" r="8.0" fill="#000"/>
<circle cx="749.50" cy="1033.90" r="8.0" fill="#000"/>
<circle cx="741.20" cy="1057.80" r="8.0" fill="#000"/>
<circle cx="757.80" cy="1058.40" r="8.0" fill="#000"/>
<circle cx="749.50" cy="1060.00" r="8.0" fill="#000"/>
<circle cx="749.50" cy="1105.10" r="8.0" fill="#000"/>
<line x1="749.50" y1="1040.00" x2="749.50" y2="1059.00" stroke="#000" stroke-width="3.0" stroke-linecap="butt"/>
<line x1="741.25" y1="1040.00" x2="757.75" y2="1040.00" stroke="#000" stroke-width="3.4" stroke-linecap="butt"/>
<line x1="741.25" y1="1059.00" x2="757.75" y2="1059.00" stroke="#000" stroke-width="3.4" stroke-linecap="butt"/>
<line x1="732.75" y1="1049.50" x2="766.25" y2="1049.50" stroke="#000" stroke-width="3.6" stroke-linecap="butt"/>
<circle cx="790.20" cy="890.60" r="7.6" fill="none" stroke="#2a2a2a" stroke-width="2.3"/>
<circle cx="805.80" cy="907.20" r="7.6" fill="none" stroke="#2a2a2a" stroke-width="2.3"/>
<circle cx="797.50" cy="931.30" r="7.6" fill="none" stroke="#2a2a2a" stroke-width="2.3"/>
<circle cx="789.20" cy="998.20" r="7.6" fill="none" stroke="#2a2a2a" stroke-width="2.3"/>
<circle cx="805.80" cy="1001.50" r="7.6" fill="none" stroke="#2a2a2a" stroke-width="2.3"/>
<circle cx="797.50" cy="1043.90" r="7.6" fill="none" stroke="#2a2a2a" stroke-width="2.3"/>
<line x1="797.50" y1="938.00" x2="797.50" y2="987.60" stroke="#2a2a2a" stroke-width="2.0" stroke-linecap="butt"/>
<line x1="789.25" y1="938.00" x2="805.75" y2="938.00" stroke="#2a2a2a" stroke-width="2.3" stroke-linecap="butt"/>
<line x1="789.25" y1="987.60" x2="805.75" y2="987.60" stroke="#2a2a2a" stroke-width="2.3" stroke-linecap="butt"/>
<line x1="780.75" y1="961.80" x2="814.25" y2="961.80" stroke="#2a2a2a" stroke-width="2.7" stroke-linecap="butt"/>
<line x1="1017.50" y1="793.85" x2="1017.50" y2="1189.55" stroke="#000" stroke-width="2.7" stroke-linecap="butt"/>
<line x1="1006.60" y1="1188.20" x2="1281.60" y2="1188.20" stroke="#000" stroke-width="2.7" stroke-linecap="butt"/>
<line x1="1006.60" y1="795.20" x2="1017.50" y2="795.20" stroke="#000" stroke-width="2.7" stroke-linecap="butt"/>
<line x1="1006.60" y1="873.80" x2="1017.50" y2="873.80" stroke="#000" stroke-width="2.7" stroke-linecap="butt"/>
<line x1="1006.60" y1="952.40" x2="1017.50" y2="952.40" stroke="#000" stroke-width="2.7" stroke-linecap="butt"/>
<line x1="1006.60" y1="1031.00" x2="1017.50" y2="1031.00" stroke="#000" stroke-width="2.7" stroke-linecap="butt"/>
<line x1="1006.60" y1="1109.60" x2="1017.50" y2="1109.60" stroke="#000" stroke-width="2.7" stroke-linecap="butt"/>
<line x1="1006.60" y1="1188.20" x2="1017.50" y2="1188.20" stroke="#000" stroke-width="2.7" stroke-linecap="butt"/>
<line x1="1083.30" y1="1188.20" x2="1083.30" y2="1199.40" stroke="#000" stroke-width="2.7" stroke-linecap="butt"/>
<line x1="1214.50" y1="1188.20" x2="1214.50" y2="1199.40" stroke="#000" stroke-width="2.7" stroke-linecap="butt"/>
<text transform="translate(945.33,804.02) scale(1.0351,1)" font-size="28.53" font-weight="bold" fill="#000">0.10</text>
<text transform="translate(945.34,882.62) scale(1.0295,1)" font-size="28.53" font-weight="bold" fill="#000">0.08</text>
<text transform="translate(945.34,961.22) scale(1.0324,1)" font-size="28.53" font-weight="bold" fill="#000">0.06</text>
<text transform="translate(945.35,1039.82) scale(1.0157,1)" font-size="28.53" font-weight="bold" fill="#000">0.04</text>
<text transform="translate(945.33,1118.42) scale(1.0346,1)" font-size="28.53" font-weight="bold" fill="#000">0.02</text>
<text transform="translate(945.33,1197.02) scale(1.0351,1)" font-size="28.53" font-weight="bold" fill="#000">0.00</text>
<text transform="translate(1075.79,1229.72) scale(0.9706,1)" font-size="28.81" font-weight="bold" fill="#000">0</text>
<text transform="translate(1208.40,1229.68) scale(0.9166,1)" font-size="28.75" font-weight="bold" fill="#000">3</text>
<text transform="translate(1088.70,1279.20) scale(0.9443,1)" font-size="33.28" font-weight="bold" fill="#000">Division</text>
<text transform="translate(923.80,1229.86) rotate(-90) scale(0.9836,1)" font-size="32.85" font-weight="bold">Expression of Cdkn2a-V2 (10</text>
<text transform="translate(909.80,784.15) rotate(-90) scale(0.9763,1)" font-size="24.86" font-weight="bold">-4</text>
<text transform="translate(923.80,761.13) rotate(-90) scale(0.9384,1)" font-size="32.85" font-weight="bold">)</text>
<path d="M1190.5,797.3 V789.5 H1242.0 V797.3" fill="none" stroke="#222" stroke-width="2.0"/>
<polygon points="1215.50,772.50 1217.14,776.44 1221.40,776.78 1218.15,779.56 1219.14,783.72 1215.50,781.49 1211.86,783.72 1212.85,779.56 1209.60,776.78 1213.86,776.44" fill="#111"/>
<circle cx="1055.70" cy="1187.60" r="8.0" fill="#000"/>
<circle cx="1058.70" cy="1187.60" r="8.0" fill="#000"/>
<circle cx="1061.60" cy="1187.60" r="8.0" fill="#000"/>
<circle cx="1108.00" cy="1055.20" r="7.6" fill="none" stroke="#2a2a2a" stroke-width="2.3"/>
<circle cx="1099.10" cy="1101.10" r="7.6" fill="none" stroke="#2a2a2a" stroke-width="2.3"/>
<circle cx="1116.00" cy="1117.20" r="7.6" fill="none" stroke="#2a2a2a" stroke-width="2.3"/>
<circle cx="1103.30" cy="1187.60" r="7.6" fill="none" stroke="#2a2a2a" stroke-width="2.3"/>
<circle cx="1108.20" cy="1187.60" r="7.6" fill="none" stroke="#2a2a2a" stroke-width="2.3"/>
<circle cx="1113.00" cy="1187.60" r="7.6" fill="none" stroke="#2a2a2a" stroke-width="2.3"/>
<line x1="1107.60" y1="1117.20" x2="1107.60" y2="1163.10" stroke="#2a2a2a" stroke-width="2.0" stroke-linecap="butt"/>
<line x1="1099.35" y1="1117.20" x2="1115.85" y2="1117.20" stroke="#2a2a2a" stroke-width="2.3" stroke-linecap="butt"/>
<line x1="1099.35" y1="1163.10" x2="1115.85" y2="1163.10" stroke="#2a2a2a" stroke-width="2.3" stroke-linecap="butt"/>
<line x1="1090.85" y1="1140.30" x2="1124.35" y2="1140.30" stroke="#2a2a2a" stroke-width="2.7" stroke-linecap="butt"/>
<circle cx="1182.30" cy="1150.80" r="8.0" fill="#000"/>
<circle cx="1198.50" cy="1161.60" r="8.0" fill="#000"/>
<circle cx="1185.40" cy="1174.50" r="8.0" fill="#000"/>
<circle cx="1189.00" cy="1180.00" r="8.0" fill="#000"/>
<circle cx="1192.30" cy="1187.70" r="8.0" fill="#000"/>
<line x1="1190.40" y1="1168.00" x2="1190.40" y2="1178.00" stroke="#000" stroke-width="3.0" stroke-linecap="butt"/>
<line x1="1182.15" y1="1168.00" x2="1198.65" y2="1168.00" stroke="#000" stroke-width="3.4" stroke-linecap="butt"/>
<line x1="1182.15" y1="1178.00" x2="1198.65" y2="1178.00" stroke="#000" stroke-width="3.4" stroke-linecap="butt"/>
<line x1="1173.65" y1="1172.60" x2="1207.15" y2="1172.60" stroke="#000" stroke-width="3.6" stroke-linecap="butt"/>
<circle cx="1239.70" cy="829.70" r="7.6" fill="none" stroke="#2a2a2a" stroke-width="2.3"/>
<circle cx="1239.70" cy="881.30" r="7.6" fill="none" stroke="#2a2a2a" stroke-width="2.3"/>
<circle cx="1239.70" cy="915.80" r="7.6" fill="none" stroke="#2a2a2a" stroke-width="2.3"/>
<circle cx="1231.60" cy="1035.20" r="7.6" fill="none" stroke="#2a2a2a" stroke-width="2.3"/>
<circle cx="1247.70" cy="1035.20" r="7.6" fill="none" stroke="#2a2a2a" stroke-width="2.3"/>
<line x1="1239.70" y1="898.00" x2="1239.70" y2="980.30" stroke="#2a2a2a" stroke-width="2.0" stroke-linecap="butt"/>
<line x1="1231.45" y1="898.00" x2="1247.95" y2="898.00" stroke="#2a2a2a" stroke-width="2.3" stroke-linecap="butt"/>
<line x1="1231.45" y1="980.30" x2="1247.95" y2="980.30" stroke="#2a2a2a" stroke-width="2.3" stroke-linecap="butt"/>
<line x1="1222.95" y1="939.40" x2="1256.45" y2="939.40" stroke="#2a2a2a" stroke-width="2.7" stroke-linecap="butt"/>
<text transform="translate(7.55,1362.10) scale(1.0134,1)" font-size="34.59" font-weight="bold" fill="#000">D</text>
<line x1="150.20" y1="1393.05" x2="150.20" y2="1793.75" stroke="#000" stroke-width="2.7" stroke-linecap="butt"/>
<line x1="138.70" y1="1792.40" x2="416.70" y2="1792.40" stroke="#000" stroke-width="2.7" stroke-linecap="butt"/>
<line x1="138.70" y1="1394.40" x2="150.20" y2="1394.40" stroke="#000" stroke-width="2.7" stroke-linecap="butt"/>
<line x1="138.70" y1="1493.90" x2="150.20" y2="1493.90" stroke="#000" stroke-width="2.7" stroke-linecap="butt"/>
<line x1="138.70" y1="1593.40" x2="150.20" y2="1593.40" stroke="#000" stroke-width="2.7" stroke-linecap="butt"/>
<line x1="138.70" y1="1692.90" x2="150.20" y2="1692.90" stroke="#000" stroke-width="2.7" stroke-linecap="butt"/>
<line x1="138.70" y1="1792.40" x2="150.20" y2="1792.40" stroke="#000" stroke-width="2.7" stroke-linecap="butt"/>
<line x1="216.00" y1="1792.40" x2="216.00" y2="1803.60" stroke="#000" stroke-width="2.7" stroke-linecap="butt"/>
<line x1="349.30" y1="1792.40" x2="349.30" y2="1803.60" stroke="#000" stroke-width="2.7" stroke-linecap="butt"/>
<text transform="translate(58.49,1403.11) scale(1.0168,1)" font-size="30.08" font-weight="bold" fill="#000">0.008</text>
<text transform="translate(58.49,1502.61) scale(1.0191,1)" font-size="30.08" font-weight="bold" fill="#000">0.006</text>
<text transform="translate(58.50,1602.11) scale(1.0063,1)" font-size="30.08" font-weight="bold" fill="#000">0.004</text>
<text transform="translate(58.49,1701.61) scale(1.0207,1)" font-size="30.08" font-weight="bold" fill="#000">0.002</text>
<text transform="translate(58.48,1801.11) scale(1.0211,1)" font-size="30.08" font-weight="bold" fill="#000">0.000</text>
<text transform="translate(208.23,1833.91) scale(1.0092,1)" font-size="29.38" font-weight="bold" fill="#000">0</text>
<text transform="translate(341.76,1833.87) scale(0.9538,1)" font-size="29.32" font-weight="bold" fill="#000">3</text>
<text transform="translate(221.77,1884.10) scale(0.9579,1)" font-size="33.28" font-weight="bold" fill="#000">Division</text>
<text transform="translate(44.30,1736.49) rotate(-90) scale(0.9511,1)" font-size="34.45" font-weight="bold">Expression of Bad</text>
<circle cx="192.10" cy="1608.50" r="8.0" fill="#000"/>
<circle cx="182.90" cy="1667.00" r="8.0" fill="#000"/>
<circle cx="200.90" cy="1677.90" r="8.0" fill="#000"/>
<circle cx="200.90" cy="1704.30" r="8.0" fill="#000"/>
<circle cx="183.90" cy="1713.80" r="8.0" fill="#000"/>
<line x1="192.10" y1="1655.90" x2="192.10" y2="1692.50" stroke="#000" stroke-width="3.8" stroke-linecap="butt"/>
<line x1="183.85" y1="1655.90" x2="200.35" y2="1655.90" stroke="#000" stroke-width="4.4" stroke-linecap="butt"/>
<line x1="183.85" y1="1692.50" x2="200.35" y2="1692.50" stroke="#000" stroke-width="4.4" stroke-linecap="butt"/>
<line x1="175.35" y1="1671.50" x2="208.85" y2="1671.50" stroke="#000" stroke-width="3.6" stroke-linecap="butt"/>
<circle cx="241.50" cy="1597.60" r="7.6" fill="none" stroke="#2a2a2a" stroke-width="2.3"/>
<circle cx="241.50" cy="1625.40" r="7.6" fill="none" stroke="#2a2a2a" stroke-width="2.3"/>
<circle cx="227.00" cy="1700.90" r="7.6" fill="none" stroke="#2a2a2a" stroke-width="2.3"/>
<circle cx="255.80" cy="1699.90" r="7.6" fill="none" stroke="#2a2a2a" stroke-width="2.3"/>
<circle cx="237.10" cy="1712.10" r="7.6" fill="none" stroke="#2a2a2a" stroke-width="2.3"/>
<circle cx="247.30" cy="1706.00" r="7.6" fill="none" stroke="#2a2a2a" stroke-width="2.3"/>
<line x1="241.50" y1="1654.50" x2="241.50" y2="1693.00" stroke="#2a2a2a" stroke-width="2.0" stroke-linecap="butt"/>
<line x1="233.25" y1="1654.50" x2="249.75" y2="1654.50" stroke="#2a2a2a" stroke-width="2.3" stroke-linecap="butt"/>
<line x1="233.25" y1="1693.00" x2="249.75" y2="1693.00" stroke="#2a2a2a" stroke-width="2.3" stroke-linecap="butt"/>
<line x1="224.75" y1="1673.80" x2="258.25" y2="1673.80" stroke="#2a2a2a" stroke-width="2.7" stroke-linecap="butt"/>
<circle cx="325.20" cy="1532.20" r="8.0" fill="#000"/>
<circle cx="325.20" cy="1591.50" r="8.0" fill="#000"/>
<circle cx="316.70" cy="1627.40" r="8.0" fill="#000"/>
<circle cx="333.70" cy="1651.10" r="8.0" fill="#000"/>
<circle cx="316.70" cy="1684.70" r="8.0" fill="#000"/>
<circle cx="333.70" cy="1680.60" r="8.0" fill="#000"/>
<line x1="325.20" y1="1602.70" x2="325.20" y2="1650.10" stroke="#000" stroke-width="3.8" stroke-linecap="butt"/>
<line x1="316.95" y1="1602.70" x2="333.45" y2="1602.70" stroke="#000" stroke-width="4.4" stroke-linecap="butt"/>
<line x1="316.95" y1="1650.10" x2="333.45" y2="1650.10" stroke="#000" stroke-width="4.4" stroke-linecap="butt"/>
<line x1="308.45" y1="1627.40" x2="341.95" y2="1627.40" stroke="#000" stroke-width="3.6" stroke-linecap="butt"/>
<circle cx="374.30" cy="1490.90" r="7.6" fill="none" stroke="#2a2a2a" stroke-width="2.3"/>
<circle cx="384.50" cy="1608.50" r="7.6" fill="none" stroke="#2a2a2a" stroke-width="2.3"/>
<circle cx="365.90" cy="1623.70" r="7.6" fill="none" stroke="#2a2a2a" stroke-width="2.3"/>
<circle cx="374.30" cy="1648.40" r="7.6" fill="none" stroke="#2a2a2a" stroke-width="2.3"/>
<circle cx="365.90" cy="1678.90" r="7.6" fill="none" stroke="#2a2a2a" stroke-width="2.3"/>
<circle cx="383.80" cy="1677.20" r="7.6" fill="none" stroke="#2a2a2a" stroke-width="2.3"/>
<line x1="374.30" y1="1592.50" x2="374.30" y2="1650.00" stroke="#2a2a2a" stroke-width="2.0" stroke-linecap="butt"/>
<line x1="366.05" y1="1592.50" x2="382.55" y2="1592.50" stroke="#2a2a2a" stroke-width="2.3" stroke-linecap="butt"/>
<line x1="366.05" y1="1650.00" x2="382.55" y2="1650.00" stroke="#2a2a2a" stroke-width="2.3" stroke-linecap="butt"/>
<line x1="357.55" y1="1620.30" x2="391.05" y2="1620.30" stroke="#2a2a2a" stroke-width="2.7" stroke-linecap="butt"/>
<line x1="580.90" y1="1394.05" x2="580.90" y2="1793.35" stroke="#000" stroke-width="2.7" stroke-linecap="butt"/>
<line x1="569.40" y1="1792.00" x2="847.20" y2="1792.00" stroke="#000" stroke-width="2.7" stroke-linecap="butt"/>
<line x1="569.40" y1="1395.40" x2="580.90" y2="1395.40" stroke="#000" stroke-width="2.7" stroke-linecap="butt"/>
<line x1="569.40" y1="1527.60" x2="580.90" y2="1527.60" stroke="#000" stroke-width="2.7" stroke-linecap="butt"/>
<line x1="569.40" y1="1659.80" x2="580.90" y2="1659.80" stroke="#000" stroke-width="2.7" stroke-linecap="butt"/>
<line x1="569.40" y1="1792.00" x2="580.90" y2="1792.00" stroke="#000" stroke-width="2.7" stroke-linecap="butt"/>
<line x1="646.30" y1="1792.00" x2="646.30" y2="1803.20" stroke="#000" stroke-width="2.7" stroke-linecap="butt"/>
<line x1="780.00" y1="1792.00" x2="780.00" y2="1803.20" stroke="#000" stroke-width="2.7" stroke-linecap="butt"/>
<text transform="translate(506.81,1404.21) scale(1.0232,1)" font-size="29.52" font-weight="bold" fill="#000">0.06</text>
<text transform="translate(506.82,1536.41) scale(1.0066,1)" font-size="29.52" font-weight="bold" fill="#000">0.04</text>
<text transform="translate(506.80,1668.61) scale(1.0253,1)" font-size="29.52" font-weight="bold" fill="#000">0.02</text>
<text transform="translate(506.80,1800.81) scale(1.0259,1)" font-size="29.52" font-weight="bold" fill="#000">0.00</text>
<text transform="translate(638.19,1833.91) scale(1.0378,1)" font-size="29.38" font-weight="bold" fill="#000">0</text>
<text transform="translate(772.43,1833.87) scale(1.0019,1)" font-size="29.32" font-weight="bold" fill="#000">3</text>
<text transform="translate(651.77,1884.10) scale(0.9881,1)" font-size="32.27" font-weight="bold" fill="#000">Division</text>
<text transform="translate(483.50,1734.08) rotate(-90) scale(0.9289,1)" font-size="35.03" font-weight="bold">Expression of Bax</text>
<circle cx="622.30" cy="1562.70" r="8.0" fill="#000"/>
<circle cx="622.30" cy="1589.50" r="8.0" fill="#000"/>
<circle cx="618.50" cy="1605.00" r="8.0" fill="#000"/>
<circle cx="626.00" cy="1608.00" r="8.0" fill="#000"/>
<circle cx="622.30" cy="1645.50" r="8.0" fill="#000"/>
<line x1="622.30" y1="1595.00" x2="622.30" y2="1613.50" stroke="#000" stroke-width="3.8" stroke-linecap="butt"/>
<line x1="614.05" y1="1595.00" x2="630.55" y2="1595.00" stroke="#000" stroke-width="4.4" stroke-linecap="butt"/>
<line x1="614.05" y1="1613.50" x2="630.55" y2="1613.50" stroke="#000" stroke-width="4.4" stroke-linecap="butt"/>
<line x1="605.55" y1="1599.20" x2="639.05" y2="1599.20" stroke="#000" stroke-width="3.6" stroke-linecap="butt"/>
<circle cx="671.70" cy="1415.70" r="7.6" fill="none" stroke="#2a2a2a" stroke-width="2.3"/>
<circle cx="677.20" cy="1607.80" r="7.6" fill="none" stroke="#2a2a2a" stroke-width="2.3"/>
<circle cx="666.10" cy="1617.10" r="7.6" fill="none" stroke="#2a2a2a" stroke-width="2.3"/>
<circle cx="669.80" cy="1623.50" r="7.6" fill="none" stroke="#2a2a2a" stroke-width="2.3"/>
<circle cx="680.00" cy="1640.20" r="7.6" fill="none" stroke="#2a2a2a" stroke-width="2.3"/>
<circle cx="663.40" cy="1664.20" r="7.6" fill="none" stroke="#2a2a2a" stroke-width="2.3"/>
<line x1="671.70" y1="1558.00" x2="671.70" y2="1629.00" stroke="#2a2a2a" stroke-width="2.0" stroke-linecap="butt"/>
<line x1="663.45" y1="1558.00" x2="679.95" y2="1558.00" stroke="#2a2a2a" stroke-width="2.3" stroke-linecap="butt"/>
<line x1="663.45" y1="1629.00" x2="679.95" y2="1629.00" stroke="#2a2a2a" stroke-width="2.3" stroke-linecap="butt"/>
<line x1="654.95" y1="1594.40" x2="688.45" y2="1594.40" stroke="#2a2a2a" stroke-width="2.7" stroke-linecap="butt"/>
<circle cx="746.50" cy="1581.00" r="8.0" fill="#000"/>
<circle cx="764.00" cy="1578.30" r="8.0" fill="#000"/>
<circle cx="760.40" cy="1600.50" r="8.0" fill="#000"/>
<circle cx="751.50" cy="1616.50" r="8.0" fill="#000"/>
<circle cx="756.50" cy="1617.50" r="8.0" fill="#000"/>
<circle cx="754.80" cy="1666.00" r="8.0" fill="#000"/>
<line x1="754.80" y1="1598.00" x2="754.80" y2="1623.00" stroke="#000" stroke-width="3.8" stroke-linecap="butt"/>
<line x1="746.55" y1="1598.00" x2="763.05" y2="1598.00" stroke="#000" stroke-width="4.4" stroke-linecap="butt"/>
<line x1="746.55" y1="1623.00" x2="763.05" y2="1623.00" stroke="#000" stroke-width="4.4" stroke-linecap="butt"/>
<line x1="738.05" y1="1609.70" x2="771.55" y2="1609.70" stroke="#000" stroke-width="3.6" stroke-linecap="butt"/>
<circle cx="805.30" cy="1521.00" r="7.6" fill="none" stroke="#2a2a2a" stroke-width="2.3"/>
<circle cx="805.30" cy="1588.50" r="7.6" fill="none" stroke="#2a2a2a" stroke-width="2.3"/>
<circle cx="793.60" cy="1641.10" r="7.6" fill="none" stroke="#2a2a2a" stroke-width="2.3"/>
<circle cx="817.60" cy="1639.30" r="7.6" fill="none" stroke="#2a2a2a" stroke-width="2.3"/>
<circle cx="801.00" cy="1652.20" r="7.6" fill="none" stroke="#2a2a2a" stroke-width="2.3"/>
<circle cx="809.30" cy="1652.20" r="7.6" fill="none" stroke="#2a2a2a" stroke-width="2.3"/>
<line x1="805.30" y1="1595.50" x2="805.30" y2="1638.00" stroke="#2a2a2a" stroke-width="2.0" stroke-linecap="butt"/>
<line x1="797.05" y1="1595.50" x2="813.55" y2="1595.50" stroke="#2a2a2a" stroke-width="2.3" stroke-linecap="butt"/>
<line x1="797.05" y1="1638.00" x2="813.55" y2="1638.00" stroke="#2a2a2a" stroke-width="2.3" stroke-linecap="butt"/>
<line x1="788.55" y1="1615.20" x2="822.05" y2="1615.20" stroke="#2a2a2a" stroke-width="2.7" stroke-linecap="butt"/>
<line x1="1013.40" y1="1394.45" x2="1013.40" y2="1793.35" stroke="#000" stroke-width="2.7" stroke-linecap="butt"/>
<line x1="1002.20" y1="1792.00" x2="1281.20" y2="1792.00" stroke="#000" stroke-width="2.7" stroke-linecap="butt"/>
<line x1="1002.20" y1="1395.80" x2="1013.40" y2="1395.80" stroke="#000" stroke-width="2.7" stroke-linecap="butt"/>
<line x1="1002.20" y1="1527.87" x2="1013.40" y2="1527.87" stroke="#000" stroke-width="2.7" stroke-linecap="butt"/>
<line x1="1002.20" y1="1659.94" x2="1013.40" y2="1659.94" stroke="#000" stroke-width="2.7" stroke-linecap="butt"/>
<line x1="1002.20" y1="1792.01" x2="1013.40" y2="1792.01" stroke="#000" stroke-width="2.7" stroke-linecap="butt"/>
<line x1="1079.40" y1="1792.00" x2="1079.40" y2="1803.20" stroke="#000" stroke-width="2.7" stroke-linecap="butt"/>
<line x1="1212.40" y1="1792.00" x2="1212.40" y2="1803.20" stroke="#000" stroke-width="2.7" stroke-linecap="butt"/>
<text transform="translate(939.62,1404.31) scale(1.0194,1)" font-size="29.24" font-weight="bold" fill="#000">0.15</text>
<text transform="translate(939.61,1536.38) scale(1.0266,1)" font-size="29.24" font-weight="bold" fill="#000">0.10</text>
<text transform="translate(939.62,1668.45) scale(1.0194,1)" font-size="29.24" font-weight="bold" fill="#000">0.05</text>
<text transform="translate(939.61,1800.52) scale(1.0266,1)" font-size="29.24" font-weight="bold" fill="#000">0.00</text>
<text transform="translate(1070.96,1833.91) scale(1.0664,1)" font-size="29.38" font-weight="bold" fill="#000">0</text>
<text transform="translate(1205.26,1833.87) scale(0.9470,1)" font-size="29.32" font-weight="bold" fill="#000">3</text>
<text transform="translate(1084.57,1884.10) scale(0.9881,1)" font-size="32.27" font-weight="bold" fill="#000">Division</text>
<text transform="translate(914.20,1750.28) rotate(-90) scale(0.9362,1)" font-size="34.88" font-weight="bold">Expression of Trp53</text>
<circle cx="1047.30" cy="1578.30" r="8.0" fill="#000"/>
<circle cx="1064.80" cy="1592.50" r="8.0" fill="#000"/>
<circle cx="1048.30" cy="1621.30" r="8.0" fill="#000"/>
<circle cx="1061.50" cy="1622.30" r="8.0" fill="#000"/>
<circle cx="1055.90" cy="1642.10" r="8.0" fill="#000"/>
<line x1="1055.90" y1="1599.20" x2="1055.90" y2="1623.30" stroke="#000" stroke-width="3.8" stroke-linecap="butt"/>
<line x1="1047.65" y1="1599.20" x2="1064.15" y2="1599.20" stroke="#000" stroke-width="4.4" stroke-linecap="butt"/>
<line x1="1047.65" y1="1623.30" x2="1064.15" y2="1623.30" stroke="#000" stroke-width="4.4" stroke-linecap="butt"/>
<line x1="1039.15" y1="1611.40" x2="1072.65" y2="1611.40" stroke="#000" stroke-width="3.6" stroke-linecap="butt"/>
<circle cx="1104.20" cy="1589.10" r="7.6" fill="none" stroke="#2a2a2a" stroke-width="2.3"/>
<circle cx="1113.10" cy="1603.80" r="7.6" fill="none" stroke="#2a2a2a" stroke-width="2.3"/>
<circle cx="1087.30" cy="1620.70" r="7.6" fill="none" stroke="#2a2a2a" stroke-width="2.3"/>
<circle cx="1094.90" cy="1623.20" r="7.6" fill="none" stroke="#2a2a2a" stroke-width="2.3"/>
<circle cx="1113.10" cy="1648.10" r="7.6" fill="none" stroke="#2a2a2a" stroke-width="2.3"/>
<circle cx="1104.20" cy="1707.10" r="7.6" fill="none" stroke="#2a2a2a" stroke-width="2.3"/>
<line x1="1104.80" y1="1614.80" x2="1104.80" y2="1650.60" stroke="#2a2a2a" stroke-width="2.0" stroke-linecap="butt"/>
<line x1="1096.55" y1="1614.80" x2="1113.05" y2="1614.80" stroke="#2a2a2a" stroke-width="2.3" stroke-linecap="butt"/>
<line x1="1096.55" y1="1650.60" x2="1113.05" y2="1650.60" stroke="#2a2a2a" stroke-width="2.3" stroke-linecap="butt"/>
<line x1="1088.05" y1="1632.10" x2="1121.55" y2="1632.10" stroke="#2a2a2a" stroke-width="2.7" stroke-linecap="butt"/>
<circle cx="1179.50" cy="1496.60" r="8.0" fill="#000"/>
<circle cx="1196.10" cy="1492.30" r="8.0" fill="#000"/>
<circle cx="1187.50" cy="1574.40" r="8.0" fill="#000"/>
<circle cx="1196.10" cy="1594.80" r="8.0" fill="#000"/>
<circle cx="1179.50" cy="1608.60" r="8.0" fill="#000"/>
<line x1="1187.50" y1="1528.60" x2="1187.50" y2="1575.00" stroke="#000" stroke-width="3.8" stroke-linecap="butt"/>
<line x1="1179.25" y1="1528.60" x2="1195.75" y2="1528.60" stroke="#000" stroke-width="4.4" stroke-linecap="butt"/>
<line x1="1179.25" y1="1575.00" x2="1195.75" y2="1575.00" stroke="#000" stroke-width="4.4" stroke-linecap="butt"/>
<line x1="1170.75" y1="1553.60" x2="1204.25" y2="1553.60" stroke="#000" stroke-width="3.6" stroke-linecap="butt"/>
<circle cx="1230.00" cy="1452.20" r="7.6" fill="none" stroke="#2a2a2a" stroke-width="2.3"/>
<circle cx="1246.50" cy="1467.10" r="7.6" fill="none" stroke="#2a2a2a" stroke-width="2.3"/>
<circle cx="1237.40" cy="1582.00" r="7.6" fill="none" stroke="#2a2a2a" stroke-width="2.3"/>
<circle cx="1237.40" cy="1607.20" r="7.6" fill="none" stroke="#2a2a2a" stroke-width="2.3"/>
<circle cx="1245.90" cy="1623.30" r="7.6" fill="none" stroke="#2a2a2a" stroke-width="2.3"/>
<circle cx="1229.30" cy="1644.70" r="7.6" fill="none" stroke="#2a2a2a" stroke-width="2.3"/>
<line x1="1237.40" y1="1528.90" x2="1237.40" y2="1596.30" stroke="#2a2a2a" stroke-width="2.0" stroke-linecap="butt"/>
<line x1="1229.15" y1="1528.90" x2="1245.65" y2="1528.90" stroke="#2a2a2a" stroke-width="2.3" stroke-linecap="butt"/>
<line x1="1229.15" y1="1596.30" x2="1245.65" y2="1596.30" stroke="#2a2a2a" stroke-width="2.3" stroke-linecap="butt"/>
<line x1="1220.65" y1="1562.80" x2="1254.15" y2="1562.80" stroke="#2a2a2a" stroke-width="2.7" stroke-linecap="butt"/>
</svg>
</body></html>
